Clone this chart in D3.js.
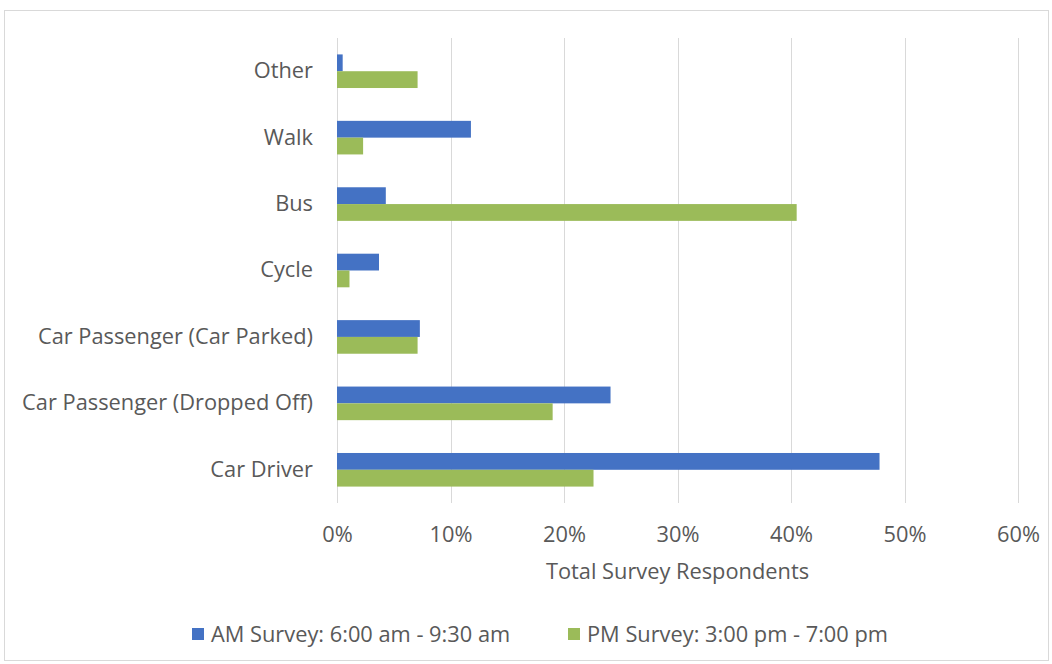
<!DOCTYPE html>
<html><head><meta charset="utf-8">
<script src="https://cdn.jsdelivr.net/npm/d3@7"></script>
<style>
html,body{margin:0;padding:0;background:#fff;}
svg{display:block;}
text{font-family:"Open Sans","Liberation Sans",sans-serif;fill:#595959;}
</style></head>
<body>
<svg id="chart" width="1052" height="664"></svg>
<script>
const categories = ["Other","Walk","Bus","Cycle","Car Passenger (Car Parked)","Car Passenger (Dropped Off)","Car Driver"];
const seriesNames = ["AM Survey: 6:00 am - 9:30 am","PM Survey: 3:00 pm - 7:00 pm"];
const amValues = [0.5, 11.8, 4.3, 3.7, 7.3, 24.1, 47.8];
const pmValues = [7.1, 2.3, 40.5, 1.1, 7.1, 19.0, 22.6];
const tickValues = [0,10,20,30,40,50,60];
const colors = ["#4472C4","#9BBB59"];

const svg = d3.select("#chart");
const W = 1052, H = 664;
const m = {left:337, right:34, top:38, bottom:161};

// pick font size so the longest category label spans ~291px, as in the reference
const probe = svg.append("text").style("font-size","20px").text("Car Passenger (Dropped Off)");
const fs = Math.min(22, 20 * 291 / probe.node().getComputedTextLength());
probe.remove();
const FS = fs.toFixed(2) + "px";

// outer frame
svg.append("rect").attr("x",4.5).attr("y",10.5).attr("width",W-8).attr("height",H-14)
  .attr("fill","none").attr("stroke","#d9d9d9").attr("stroke-width",1);

const x = d3.scaleLinear().domain([0,60]).range([m.left, W-m.right]);
const y0 = d3.scaleBand().domain(categories).range([m.top, H-m.bottom]).paddingInner(0).paddingOuter(0);
const barH = 16.8;
const y1 = d3.scaleBand().domain([0,1]).range([y0.bandwidth()/2 - barH, y0.bandwidth()/2 + barH]);

// gridlines
svg.append("g").selectAll("line").data(tickValues).join("line")
  .attr("x1",d=>Math.round(x(d))+0.5).attr("x2",d=>Math.round(x(d))+0.5)
  .attr("y1",m.top).attr("y2",H-m.bottom)
  .attr("stroke","#d9d9d9").attr("stroke-width",1);

// bars
const rows = categories.map((c,i)=>({c, vals:[amValues[i], pmValues[i]]}));
const g = svg.append("g");
g.selectAll("g.cat").data(rows).join("g").attr("class","cat")
  .attr("transform",d=>`translate(0,${y0(d.c)})`)
  .selectAll("rect").data(d=>d.vals.map((v,k)=>({v,k}))).join("rect")
  .attr("x",x(0)).attr("y",d=>y1(d.k)).attr("height",y1.bandwidth())
  .attr("width",d=>x(d.v)-x(0)).attr("fill",d=>colors[d.k]);

// x axis
const xAxis = d3.axisBottom(x).tickValues(tickValues).tickFormat(d=>d+"%").tickSize(0).tickPadding(0);
const xa = svg.append("g").attr("transform",`translate(0,${H-m.bottom})`).call(xAxis);
xa.select(".domain").remove();
xa.selectAll("text").attr("dy",null).attr("y",39).style("font-size",FS).attr("fill","#595959");

// y axis
const yAxis = d3.axisLeft(y0).tickSize(0).tickPadding(24);
const ya = svg.append("g").attr("transform",`translate(${m.left},0)`).call(yAxis);
ya.select(".domain").remove();
ya.selectAll("text").style("font-size",FS).attr("fill","#595959");

// axis title
svg.append("text").attr("x",(x(0)+x(60))/2).attr("y",579).attr("text-anchor","middle")
  .style("font-size",FS).text("Total Survey Respondents");

// legend
const legendX = [192, 568];
const lg = svg.append("g").selectAll("g").data(seriesNames).join("g")
  .attr("transform",(d,i)=>`translate(${legendX[i]},634)`);
lg.append("rect").attr("x",0).attr("y",-6).attr("width",12).attr("height",12).attr("fill",(d,i)=>colors[i]);
lg.append("text").attr("x",19).attr("y",0).attr("dy","0.35em").style("font-size",FS).text(d=>d);
</script>
</body></html>
